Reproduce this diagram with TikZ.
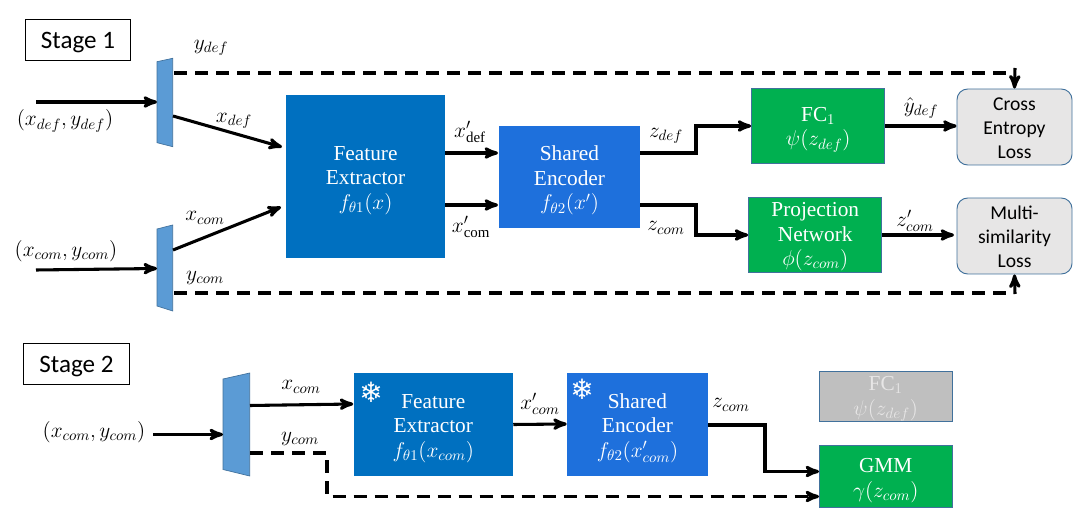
\documentclass[tikz,border=0pt]{standalone}
\usepackage{fix-cm}
\usepackage{fontspec}
\setmainfont{Carlito}
\setmathrm{Liberation Serif}
\newfontfamily\serifbox{Liberation Serif}
\newfontfamily\snowfont{DejaVu Sans}
\usetikzlibrary{arrows}

\definecolor{feblue}{HTML}{0070C0}
\definecolor{seblue}{HTML}{1E70DC}
\definecolor{splitblue}{HTML}{5B9BD5}
\definecolor{edgeblue}{HTML}{41719C}
\definecolor{headgreen}{HTML}{00B050}
\definecolor{lossgrey}{HTML}{E7E6E6}
\definecolor{frozengrey}{HTML}{BFBFBF}

% pushes the lines of a box down a little
\newcommand{\blockstrut}{\rule{0pt}{16.5pt}}
\newcommand{\headstrut}{\rule{0pt}{14pt}}
\newcommand{\lossstrut}{\rule{0pt}{11.5pt}}

\tikzset{
    stagebox/.style={draw=black, line width=0.8pt, minimum width=79pt, minimum height=31pt, inner sep=0pt, text height=15pt, text depth=2pt, font=\fontsize{18.8}{22}\selectfont},
    block/.style={text=white, align=center, inner sep=0pt, font=\serifbox\fontsize{16}{18.4}\selectfont},
    head/.style={block, fill=headgreen, draw=edgeblue, line width=0.7pt, minimum width=100pt},
    loss/.style={draw=edgeblue, fill=lossgrey, line width=0.7pt, rounded corners=8pt, align=center, inner sep=0pt, minimum width=86.25pt, minimum height=57pt, font=\fontsize{14.7}{18}\selectfont},
    splitter/.style={fill=splitblue, draw=edgeblue, line width=0.5pt},
    tag/.style={inner sep=0pt, font=\fontsize{16}{18}\selectfont},
    snow/.style={text=white, inner sep=0pt, font=\snowfont\fontsize{21}{21}\selectfont},
    flow/.style={line width=2.3pt},
    label flow/.style={line width=2.3pt, dash pattern=on 9.75pt off 6pt}
}

\begin{document}
\begin{tikzpicture}[x=0.75pt, y=-0.75pt, >=stealth']
    \useasboundingbox (0,0) rectangle (1092,527);

    % Stage 1 nodes
    \node [stagebox] (stage1) at (78,40) {Stage 1};
    \node [block, fill=feblue, minimum width=119.25pt, minimum height=122.25pt] (fe1) at (365.5,176.5)
        {\blockstrut Feature\\Extractor\\$f_{\theta 1}(x)$};
    \node [block, fill=seblue, minimum width=105.75pt, minimum height=76.5pt] (se1) at (569.5,177)
        {\blockstrut Shared\\Encoder\\$f_{\theta 2}(x')$};
    \node [head, minimum height=56.6pt] (fc1) at (818.25,125.75) {\blockstrut FC$_1$\\$\psi(z_{def})$};
    \node [head, minimum height=56.25pt] (pn) at (815.25,234.5)
        {\headstrut Projection\\Network\\$\phi(z_{com})$};
    \node [loss] (ce) at (1014.5,127) {\lossstrut Cross\\Entropy\\Loss};
    \node [loss] (ms) at (1014.5,236) {\lossstrut Multi-\\similarity\\Loss};

    % Stage 1 splitters
    \draw [splitter] (157,61.7) -- (172.7,58.3) -- (172.7,146.7) -- (157,142.7) -- cycle;
    \draw [splitter] (157,229) -- (172.7,225) -- (172.7,311) -- (157,306) -- cycle;
    \coordinate (def in) at (36,102);
    \coordinate (def split) at (157,102);
    \coordinate (def out) at (173,116);
    \coordinate (def dash) at (174,73);
    \coordinate (def corner) at (1012,73);
    \coordinate (def top) at (1015,68);
    \coordinate (com in) at (36,270);
    \coordinate (com split) at (157,268.5);
    \coordinate (com out) at (173,250);
    \coordinate (com dash) at (174,293);
    \coordinate (com corner) at (1012,293);
    \coordinate (com bottom) at (1015,294);

    % Stage 1 labels
    \node [tag] (ldata) at (65,121) {$(x_{def},y_{def})$};
    \node [tag] (lcomdata) at (66,251) {$(x_{com},y_{com})$};
    \node [tag] (lydef) at (211,48) {$y_{def}$};
    \node [tag] (lxdef) at (234,121) {$x_{def}$};
    \node [tag] (lxcom) at (205,218) {$x_{com}$};
    \node [tag] (lycom) at (205,278) {$y_{com}$};
    \node [tag] (lxpdef) at (470,132) {$x'_{\mathrm{def}}$};
    \node [tag] (lxpcom) at (471,227) {$x'_{\mathrm{com}}$};
    \node [tag] (lzdef) at (666,136) {$z_{def}$};
    \node [tag] (lzcom) at (666,228) {$z_{com}$};
    \node [tag] (lyhat) at (921,108) {$\hat{y}_{def}$};
    \node [tag] (lzpcom) at (915,221) {$z'_{com}$};

    % Stage 1 paths
    \path [->, flow] (def in) edge (def split);
    \path [->, flow] (com in) edge (com split);
    \path [->, flow] (def out) edge (282,147);
    \path [->, flow] (com out) edge (281,207);
    \path [->, flow] (fe1.east |- 0,153) edge (498,153);
    \path [->, flow] (fe1.east |- 0,205) edge (498,205);
    \draw [->, flow] (se1.east |- 0,153) -- (696,153) -- (696,126) -- (fc1.west |- 0,126);
    \draw [->, flow] (se1.east |- 0,205) -- (696,205) -- (696,235) -- (pn.west |- 0,235);
    \path [->, flow] (fc1.east |- 0,126) edge (ce.west |- 0,126);
    \path [->, flow] (pn.east |- 0,235) edge (954,235);
    \draw [label flow] (def dash) -- (def corner);
    \draw [label flow] (com dash) -- (com corner);
    \path [->, flow] (def top) edge (ce.north);
    \path [->, flow] (com bottom) edge (ms.south);

    % Stage 2 nodes
    \node [stagebox] (stage2) at (76.5,364) {Stage 2};
    \node [block, fill=feblue, minimum width=119.6pt, minimum height=76.9pt] (fe2) at (433.25,424.25)
        {\blockstrut Feature\\Extractor\\$f_{\theta 1}(x_{com})$};
    \node [block, fill=seblue, minimum width=105.75pt, minimum height=77.25pt] (se2) at (637.5,424.5)
        {\blockstrut Shared\\Encoder\\$f_{\theta 2}(x'_{com})$};
    \node [head, fill=frozengrey, minimum width=99.4pt, minimum height=37.5pt, text=lossgrey] (fc2) at (885.75,396.75)
        {\headstrut FC$_1$\\$\psi(z_{def})$};
    \node [head, minimum width=99.4pt, minimum height=46.5pt] (gmm) at (885.75,476.5) {\blockstrut GMM\\$\gamma(z_{com})$};
    \node [snow] (snow1) at (371,392.5) {❄};
    \node [snow] (snow2) at (582,389.5) {❄};

    % Stage 2 splitter
    \draw [splitter] (223,379) -- (249.7,373) -- (249.7,476) -- (223,469.5) -- cycle;
    \coordinate (s2 in) at (153,434.5);
    \coordinate (s2 split) at (223,434.5);
    \coordinate (s2 out) at (250,405.5);
    \coordinate (s2 dash) at (250,453);

    % Stage 2 labels
    \node [tag] (ls2data) at (94,432) {$(x_{com},y_{com})$};
    \node [tag] (ls2x) at (301,387) {$x_{com}$};
    \node [tag] (ls2y) at (300,439) {$y_{com}$};
    \node [tag] (ls2xp) at (540,404) {$x'_{com}$};
    \node [tag] (ls2z) at (731,405) {$z_{com}$};

    % Stage 2 paths
    \path [->, flow] (s2 in) edge (s2 split);
    \path [->, flow] (s2 out) edge (fe2.west |- 0,404);
    \path [->, flow] (fe2.east |- 0,424.5) edge (se2.west |- 0,424);
    \draw [->, flow] (se2.east |- 0,425) -- (765,425) -- (765,471.5) -- (gmm.west |- 0,471.5);
    \draw [->, label flow] (s2 dash) -- (327,453) -- (327,496.5) -- (gmm.west |- 0,496.5);
\end{tikzpicture}
\end{document}
